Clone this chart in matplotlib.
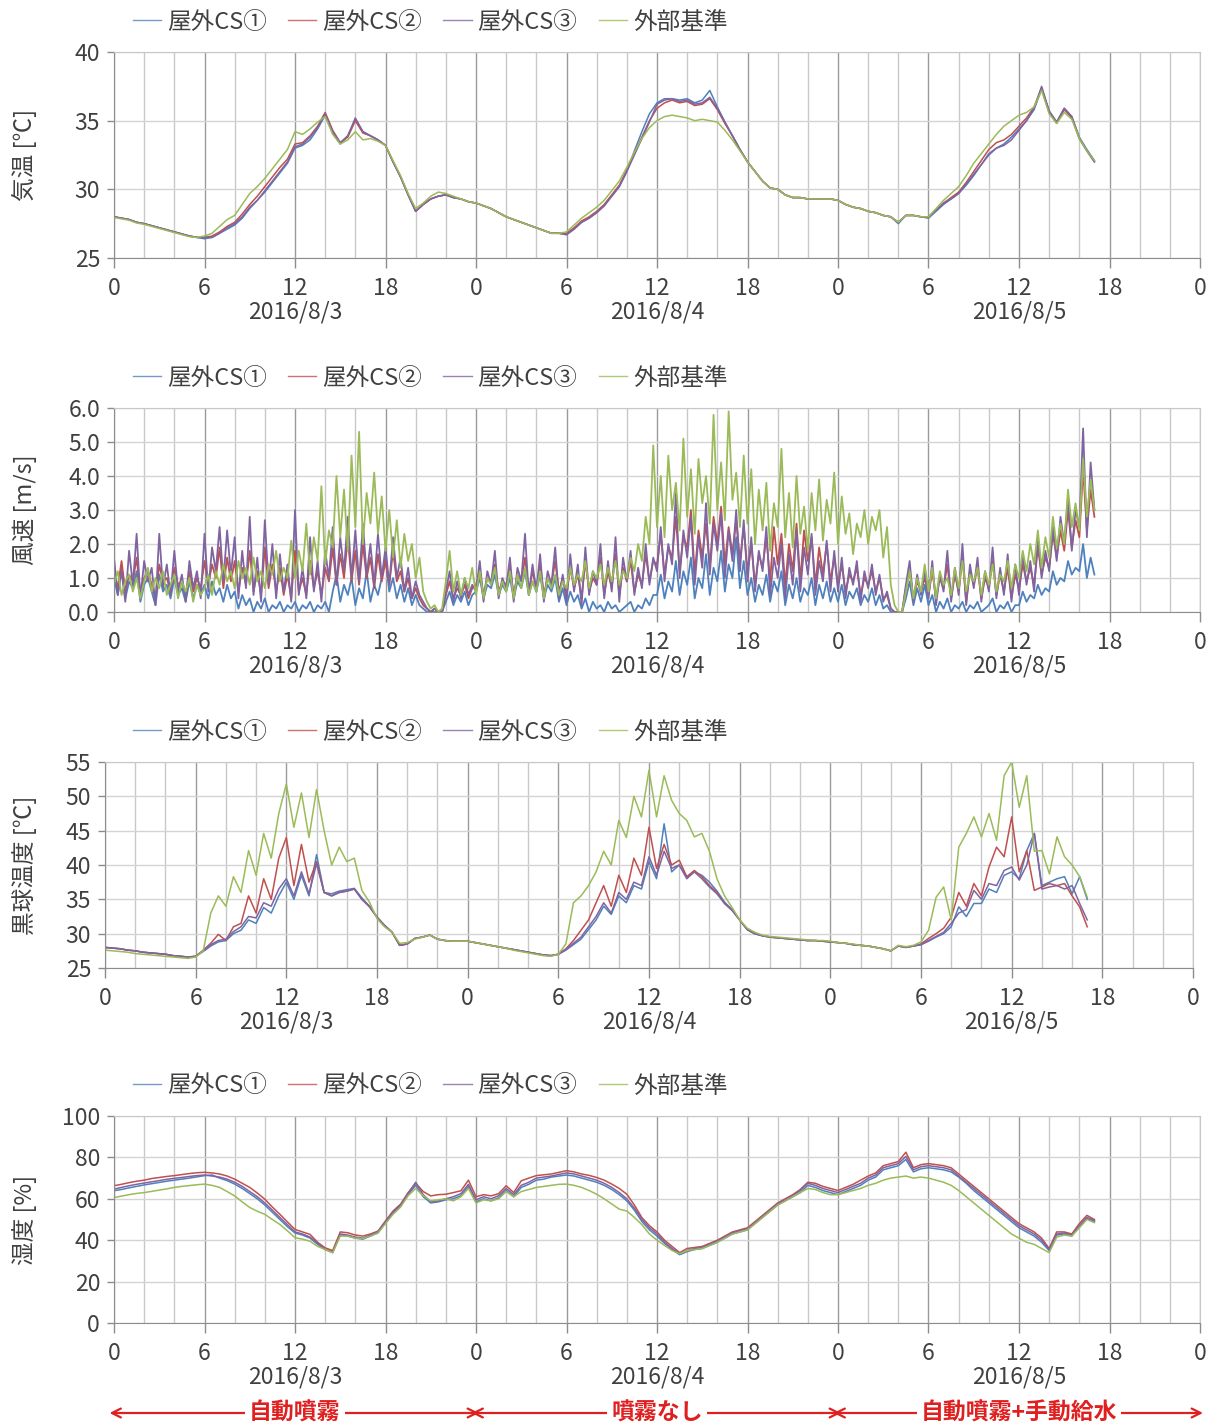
import numpy as np
import matplotlib
matplotlib.use('Agg')
import matplotlib.pyplot as plt
import matplotlib.transforms as mtransforms
from matplotlib.lines import Line2D
from matplotlib.ticker import MultipleLocator, FormatStrFormatter

plt.rcParams['font.family'] = ['Noto Sans CJK JP', 'DejaVu Sans']

# sampling times [h from 2016/8/3 0:00] up to 65 h
hours = np.arange(131) * 0.5        # 30 min records
hours_wind = np.arange(261) * 0.25  # 15 min records

series_names = ['屋外CS①', '屋外CS②', '屋外CS③', '外部基準']
colors = ['#4F81BD', '#C0504D', '#8064A2', '#9BBB59']
day_labels = ['2016/8/3', '2016/8/4', '2016/8/5']
mode_labels = ['自動噴霧', '噴霧なし', '自動噴霧+手動給水']

# ---- air temperature [C]
temp_cs1 = [28.0, 27.9, 27.8, 27.6, 27.5, 27.35, 27.2, 27.05, 26.9, 26.75, 26.6, 26.5,
            26.4, 26.5, 26.8, 27.1, 27.4, 27.9, 28.6, 29.2, 29.8, 30.5, 31.2, 31.9,
            33.0, 33.2, 33.6, 34.4, 35.4, 34.1, 33.3, 33.9, 35.1, 34.2, 33.9, 33.6,
            33.2, 32.0, 30.9, 29.6, 28.4, 28.9, 29.3, 29.5, 29.6, 29.4, 29.3, 29.1,
            29.0, 28.8, 28.6, 28.3, 28.0, 27.8, 27.6, 27.4, 27.2, 27.0, 26.8, 26.8,
            26.7, 27.1, 27.6, 27.9, 28.3, 28.8, 29.5, 30.2, 31.3, 32.8, 34.2, 35.5,
            36.3, 36.6, 36.6, 36.5, 36.6, 36.3, 36.5, 37.2, 36.0, 34.9, 33.9, 32.9,
            32.0, 31.3, 30.6, 30.1, 30.0, 29.6, 29.4, 29.4, 29.3, 29.3, 29.3, 29.3,
            29.2, 28.9, 28.7, 28.6, 28.4, 28.3, 28.1, 28.0, 27.5, 28.1, 28.1, 28.0,
            27.9, 28.4, 28.9, 29.3, 29.7, 30.3, 31.0, 31.8, 32.6, 33.0, 33.3, 33.8,
            34.4, 35.0, 35.8, 37.3, 35.7, 34.9, 35.9, 35.3, 33.8, 32.9, 32.1]
temp_cs2 = [28.0, 27.9, 27.8, 27.6, 27.5, 27.35, 27.2, 27.05, 26.9, 26.75, 26.6, 26.5,
            26.5, 26.6, 26.9, 27.3, 27.6, 28.2, 28.9, 29.5, 30.2, 30.9, 31.6, 32.2,
            33.3, 33.4, 33.9, 34.6, 35.6, 34.3, 33.4, 33.8, 35.0, 34.1, 33.9, 33.6,
            33.2, 32.0, 30.9, 29.6, 28.4, 28.9, 29.3, 29.5, 29.6, 29.4, 29.3, 29.1,
            29.0, 28.8, 28.6, 28.3, 28.0, 27.8, 27.6, 27.4, 27.2, 27.0, 26.8, 26.8,
            26.8, 27.2, 27.7, 28.0, 28.4, 28.9, 29.6, 30.3, 31.4, 32.6, 33.8, 35.0,
            35.9, 36.3, 36.5, 36.3, 36.4, 36.1, 36.2, 36.6, 35.8, 34.8, 33.9, 32.9,
            32.0, 31.3, 30.6, 30.1, 30.0, 29.6, 29.4, 29.4, 29.3, 29.3, 29.3, 29.3,
            29.2, 28.9, 28.7, 28.6, 28.4, 28.3, 28.1, 28.0, 27.6, 28.1, 28.1, 28.0,
            28.0, 28.5, 29.0, 29.4, 29.8, 30.5, 31.3, 32.1, 32.9, 33.4, 33.6, 34.0,
            34.6, 35.2, 36.0, 37.4, 35.6, 34.8, 35.8, 35.2, 33.7, 32.8, 32.0]
temp_cs3 = [28.0, 27.9, 27.8, 27.6, 27.5, 27.35, 27.2, 27.05, 26.9, 26.75, 26.6, 26.5,
            26.5, 26.5, 26.8, 27.2, 27.5, 28.0, 28.7, 29.2, 29.9, 30.6, 31.3, 32.0,
            33.1, 33.3, 33.8, 34.5, 35.5, 34.2, 33.4, 33.9, 35.2, 34.2, 33.9, 33.6,
            33.2, 32.0, 30.9, 29.6, 28.4, 28.9, 29.3, 29.5, 29.6, 29.4, 29.3, 29.1,
            29.0, 28.8, 28.6, 28.3, 28.0, 27.8, 27.6, 27.4, 27.2, 27.0, 26.8, 26.8,
            26.7, 27.1, 27.6, 27.9, 28.3, 28.8, 29.5, 30.2, 31.3, 32.5, 33.7, 34.9,
            36.2, 36.5, 36.6, 36.4, 36.5, 36.2, 36.3, 36.7, 35.9, 34.9, 33.9, 32.9,
            32.0, 31.3, 30.6, 30.1, 30.0, 29.6, 29.4, 29.4, 29.3, 29.3, 29.3, 29.3,
            29.2, 28.9, 28.7, 28.6, 28.4, 28.3, 28.1, 28.0, 27.6, 28.1, 28.1, 28.0,
            28.0, 28.5, 29.0, 29.3, 29.7, 30.4, 31.1, 31.8, 32.5, 33.0, 33.2, 33.6,
            34.3, 35.0, 35.9, 37.5, 35.7, 34.9, 35.9, 35.3, 33.7, 32.8, 32.0]
temp_ext = [27.95, 27.85, 27.75, 27.55, 27.45, 27.3, 27.15, 27.0, 26.85, 26.7, 26.55, 26.5,
            26.6, 26.8, 27.3, 27.8, 28.1, 28.9, 29.7, 30.2, 30.8, 31.5, 32.2, 32.9,
            34.2, 34.0, 34.4, 34.9, 35.3, 34.0, 33.3, 33.6, 34.2, 33.6, 33.7, 33.5,
            33.2, 32.1, 31.0, 29.7, 28.6, 29.0, 29.5, 29.8, 29.7, 29.5, 29.3, 29.1,
            29.0, 28.8, 28.6, 28.3, 28.0, 27.8, 27.6, 27.4, 27.2, 27.0, 26.8, 26.8,
            26.9, 27.4, 27.9, 28.3, 28.7, 29.2, 29.9, 30.6, 31.6, 32.7, 33.7, 34.5,
            35.0, 35.3, 35.4, 35.3, 35.2, 35.0, 35.1, 35.0, 34.9, 34.3, 33.6, 32.8,
            32.0, 31.3, 30.6, 30.1, 30.0, 29.6, 29.4, 29.4, 29.3, 29.3, 29.3, 29.3,
            29.2, 28.9, 28.7, 28.6, 28.4, 28.3, 28.1, 28.0, 27.6, 28.1, 28.1, 28.0,
            28.0, 28.6, 29.2, 29.7, 30.2, 31.0, 31.9, 32.6, 33.3, 34.0, 34.6, 35.0,
            35.4, 35.6, 36.0, 37.2, 35.5, 34.8, 35.6, 35.1, 33.7, 32.8, 32.1]

# ---- wind speed [m/s], 15 min records
wind_cs1 = [1.0, 0.5, 1.3, 0.4, 0.9, 0.7, 1.2, 0.3, 0.8, 1.0, 0.6, 0.2, 1.1, 0.6, 0.8, 0.4, 1.0, 0.5, 0.7, 0.3, 0.9, 0.4, 0.8, 0.5,
            0.8, 0.4, 0.9, 0.5, 0.7, 0.3, 0.8, 0.4, 0.6, 0.1, 0.5, 0.2, 0.4, 0.0, 0.3, 0.1, 0.4, 0.0, 0.2, 0.1, 0.3, 0.0, 0.2, 0.1,
            0.3, 0.0, 0.2, 0.1, 0.3, 0.0, 0.2, 0.1, 0.3, 0.0, 0.6, 1.1, 0.3, 0.8, 0.5, 1.0, 0.2, 0.7, 0.4, 1.2, 0.3, 0.8, 0.5, 1.0,
            1.6, 0.6, 1.0, 0.4, 0.8, 0.3, 0.7, 0.2, 0.5, 0.2, 0.1, 0.0, 0.0, 0.0, 0.0, 0.0, 0.3, 0.6, 0.2, 0.5, 0.3, 0.6, 0.2, 0.5,
            0.6, 1.0, 0.4, 0.8, 0.7, 1.1, 0.5, 0.8, 0.6, 1.0, 0.4, 0.9, 0.7, 1.2, 0.5, 0.9, 0.6, 1.1, 0.4, 0.8, 0.6, 1.0, 0.3, 0.7,
            0.2, 0.6, 0.3, 0.5, 0.1, 0.4, 0.0, 0.3, 0.1, 0.2, 0.0, 0.3, 0.1, 0.2, 0.0, 0.1, 0.2, 0.3, 0.0, 0.2, 0.1, 0.4, 0.2, 0.5,
            0.5, 1.1, 0.4, 0.9, 0.6, 1.5, 0.5, 1.2, 0.8, 1.6, 0.4, 1.0, 0.7, 1.7, 0.5, 1.3, 0.9, 1.8, 0.6, 1.4, 1.0, 2.2, 0.7, 1.5,
            0.5, 1.0, 0.3, 0.8, 0.5, 1.1, 0.3, 0.9, 0.6, 1.2, 0.2, 0.8, 0.4, 1.0, 0.3, 0.7, 0.5, 1.0, 0.2, 0.8, 0.4, 0.9, 0.3, 0.7,
            0.3, 0.8, 0.2, 0.6, 0.4, 0.7, 0.2, 0.5, 0.3, 0.7, 0.2, 0.5, 0.1, 0.2, 0.0, 0.0, 0.0, 0.0, 0.4, 0.9, 0.2, 0.7, 0.3, 0.8,
            0.2, 0.5, 0.0, 0.3, 0.1, 0.4, 0.0, 0.2, 0.1, 0.3, 0.0, 0.2, 0.1, 0.3, 0.0, 0.1, 0.2, 0.4, 0.0, 0.2, 0.1, 0.3, 0.0, 0.2,
            0.2, 0.6, 0.3, 0.5, 0.4, 0.8, 0.5, 0.7, 0.6, 1.2, 0.8, 1.0, 0.9, 1.5, 1.1, 1.3, 1.2, 2.0, 1.0, 1.6, 1.1]
wind_cs2 = [1.2, 0.7, 1.5, 0.6, 1.1, 0.9, 1.6, 0.5, 1.0, 1.2, 0.8, 0.4, 1.4, 0.9, 1.0, 0.6, 1.3, 0.8, 0.9, 0.5, 1.2, 0.6, 1.0, 0.7,
            1.5, 0.8, 1.4, 1.0, 1.9, 0.7, 1.6, 0.9, 1.5, 0.6, 1.3, 0.8, 1.8, 0.6, 1.2, 0.5, 1.9, 0.7, 1.4, 0.6, 1.3, 0.5, 1.1, 0.4,
            1.8, 0.6, 1.0, 0.5, 1.5, 0.7, 1.2, 0.5, 1.3, 0.9, 1.9, 0.8, 1.7, 1.0, 2.2, 0.9, 1.8, 0.8, 2.0, 1.0, 1.6, 0.7, 1.7, 0.9,
            1.5, 0.8, 1.8, 0.9, 1.2, 0.6, 1.0, 0.4, 0.7, 0.4, 0.2, 0.1, 0.0, 0.1, 0.0, 0.0, 0.5, 0.9, 0.4, 0.7, 0.5, 0.8, 0.4, 0.7,
            0.8, 1.2, 0.5, 1.0, 0.9, 1.4, 0.6, 0.9, 0.8, 1.3, 0.5, 1.1, 0.9, 1.6, 0.6, 1.2, 0.7, 1.4, 0.5, 1.0, 0.8, 1.5, 0.6, 1.0,
            0.5, 1.3, 0.7, 1.1, 0.4, 1.5, 0.6, 1.0, 0.8, 1.6, 0.5, 1.2, 0.7, 1.7, 0.5, 1.3, 0.9, 1.5, 0.6, 1.1, 0.8, 1.7, 0.9, 1.5,
            1.4, 2.3, 1.1, 1.9, 1.6, 2.8, 1.2, 2.2, 1.9, 3.0, 1.1, 2.4, 1.6, 2.6, 1.3, 2.8, 2.0, 3.1, 1.4, 2.5, 1.7, 2.7, 1.5, 2.5,
            1.2, 2.0, 0.8, 1.7, 1.3, 2.2, 0.9, 2.5, 1.4, 2.3, 0.8, 2.0, 1.2, 2.6, 0.9, 2.4, 1.5, 2.2, 0.8, 1.9, 1.1, 2.0, 0.9, 1.6,
            0.8, 1.4, 0.6, 1.1, 0.9, 1.3, 0.5, 1.0, 0.8, 1.2, 0.6, 1.0, 0.4, 0.5, 0.1, 0.0, 0.0, 0.0, 0.7, 1.2, 0.4, 0.9, 0.6, 1.0,
            0.5, 1.2, 0.4, 1.0, 0.7, 1.4, 0.4, 1.1, 0.6, 1.6, 0.3, 1.2, 0.8, 1.3, 0.4, 1.0, 0.7, 1.5, 0.5, 1.1, 0.6, 1.3, 0.4, 1.1,
            0.7, 1.4, 0.9, 1.3, 0.8, 1.9, 1.1, 1.6, 1.3, 2.3, 1.6, 2.4, 1.8, 3.0, 1.9, 2.7, 2.2, 4.2, 2.4, 3.6, 2.8]
wind_cs3 = [1.6, 0.5, 1.2, 0.3, 1.8, 0.8, 2.3, 0.4, 1.5, 0.9, 1.3, 0.2, 2.3, 0.7, 1.4, 0.5, 1.8, 0.6, 1.1, 0.3, 1.5, 0.7, 1.2, 0.4,
            2.3, 0.6, 1.9, 1.2, 2.5, 0.9, 2.4, 1.1, 2.2, 0.4, 1.8, 0.7, 2.8, 0.5, 1.6, 0.3, 2.7, 0.8, 2.0, 0.4, 1.7, 0.6, 1.4, 0.3,
            3.0, 0.5, 1.3, 0.4, 2.2, 0.6, 1.5, 0.3, 1.8, 1.0, 2.5, 0.8, 2.2, 1.2, 2.8, 1.0, 2.4, 0.9, 2.6, 1.1, 2.0, 0.8, 2.3, 1.0,
            1.9, 0.8, 2.2, 1.0, 1.6, 0.6, 1.3, 0.4, 0.9, 0.5, 0.3, 0.1, 0.0, 0.1, 0.0, 0.0, 0.6, 1.2, 0.3, 0.9, 0.4, 1.0, 0.5, 0.8,
            0.6, 1.5, 0.3, 1.2, 0.8, 1.8, 0.4, 1.0, 0.7, 1.6, 0.3, 1.3, 0.9, 2.3, 0.5, 1.4, 0.6, 1.7, 0.3, 1.2, 0.8, 1.9, 0.4, 1.1,
            0.3, 1.7, 0.6, 1.4, 0.2, 1.9, 0.5, 1.2, 0.8, 2.0, 0.4, 1.5, 0.6, 2.2, 0.3, 1.6, 0.9, 1.8, 0.5, 1.3, 0.7, 2.0, 0.8, 1.6,
            1.2, 2.5, 0.9, 2.0, 1.4, 3.5, 1.0, 2.4, 1.6, 2.8, 0.8, 2.2, 1.3, 3.2, 1.1, 2.6, 1.8, 2.9, 1.0, 2.4, 1.5, 3.0, 1.2, 2.7,
            0.9, 2.2, 0.6, 1.8, 1.2, 2.5, 0.5, 1.6, 1.0, 2.0, 0.4, 1.7, 0.8, 2.4, 0.6, 1.9, 1.1, 2.3, 0.5, 1.5, 0.9, 2.1, 0.6, 1.8,
            0.6, 1.6, 0.4, 1.3, 0.8, 1.5, 0.3, 1.2, 0.7, 1.4, 0.5, 1.1, 0.3, 0.6, 0.1, 0.0, 0.0, 0.0, 0.8, 1.5, 0.3, 1.1, 0.5, 1.2,
            0.4, 1.5, 0.2, 1.1, 0.6, 1.8, 0.3, 1.3, 0.5, 2.0, 0.2, 1.4, 0.7, 1.6, 0.3, 1.2, 0.6, 1.9, 0.4, 1.3, 0.5, 1.7, 0.3, 1.4,
            0.5, 1.7, 0.8, 1.5, 0.6, 2.2, 1.0, 1.8, 1.2, 2.5, 1.5, 2.8, 2.0, 3.4, 1.8, 3.0, 2.5, 5.4, 2.2, 4.4, 3.0]
wind_ext = [0.8, 1.2, 0.5, 0.9, 1.1, 0.6, 1.0, 0.4, 0.9, 1.3, 0.6, 1.0, 0.7, 1.2, 0.5, 0.8, 1.1, 0.4, 0.9, 0.6, 1.0, 0.3, 0.8, 0.5,
            0.7, 1.1, 0.5, 1.2, 0.8, 1.4, 0.9, 1.2, 0.7, 1.5, 1.0, 1.3, 0.8, 1.6, 0.9, 1.2, 0.7, 1.4, 1.1, 1.8, 0.9, 1.3, 1.0, 2.1,
            1.0, 1.8, 1.2, 2.6, 1.1, 2.2, 1.5, 3.7, 1.4, 2.4, 1.9, 4.0, 2.2, 3.6, 1.8, 4.6, 2.5, 5.3, 2.0, 3.5, 2.6, 4.1, 2.3, 3.4,
            1.8, 3.0, 1.6, 2.7, 1.3, 2.3, 1.5, 2.0, 1.0, 1.6, 0.6, 0.3, 0.1, 0.2, 0.0, 0.1, 0.9, 1.8, 0.6, 1.2, 0.5, 1.0, 0.7, 1.3,
            0.5, 1.2, 0.4, 1.0, 0.8, 1.3, 0.5, 0.9, 0.6, 1.2, 0.4, 1.1, 0.7, 1.3, 0.5, 0.9, 0.6, 1.2, 0.4, 1.0, 0.7, 1.1, 0.5, 0.9,
            0.7, 1.3, 0.8, 1.1, 0.9, 1.5, 0.7, 1.2, 1.0, 1.4, 0.8, 1.3, 0.9, 1.5, 0.8, 1.2, 1.0, 1.6, 1.2, 2.0, 1.5, 2.8, 2.0, 4.9,
            2.5, 4.0, 2.2, 4.6, 3.0, 3.8, 2.4, 5.1, 2.8, 4.2, 2.3, 4.5, 3.2, 4.0, 2.6, 5.8, 3.0, 4.4, 2.7, 5.9, 3.3, 4.1, 2.5, 4.6,
            2.6, 4.2, 2.0, 3.6, 2.4, 3.8, 1.8, 3.2, 2.5, 4.8, 2.2, 3.5, 1.9, 4.0, 2.3, 3.1, 1.8, 3.5, 2.4, 3.9, 2.1, 3.3, 2.6, 4.1,
            2.0, 3.4, 2.3, 2.9, 1.7, 2.6, 2.2, 3.0, 2.0, 2.8, 2.4, 3.0, 1.6, 2.5, 0.8, 0.2, 0.0, 0.0, 0.6, 1.2, 0.4, 1.0, 0.6, 1.4,
            0.6, 1.3, 0.4, 1.2, 0.8, 1.0, 0.5, 1.3, 0.7, 1.5, 0.6, 1.1, 0.9, 1.3, 0.5, 1.2, 0.8, 1.4, 0.6, 1.1, 0.9, 1.5, 0.7, 1.4,
            1.0, 1.8, 1.2, 2.0, 1.4, 2.4, 1.3, 2.2, 1.6, 2.8, 1.9, 2.6, 2.0, 3.6, 2.5, 3.2, 2.4, 4.5, 2.8, 3.9, 3.0]

# ---- globe temperature [C]
globe_cs1 = [28.0, 27.9, 27.8, 27.6, 27.5, 27.3, 27.2, 27.1, 27.0, 26.8, 26.7, 26.6,
             26.7, 27.4, 28.2, 28.8, 29.0, 30.0, 30.5, 32.0, 31.5, 33.8, 33.0, 35.5,
             37.5, 35.0, 38.5, 35.5, 41.5, 36.0, 35.8, 36.2, 36.4, 36.6, 35.2, 34.0,
             32.4, 31.2, 30.2, 28.3, 28.5, 29.3, 29.5, 29.8, 29.2, 29.0, 28.9, 28.9,
             28.9, 28.7, 28.5, 28.3, 28.1, 27.9, 27.7, 27.5, 27.3, 27.1, 26.9, 26.8,
             27.0, 27.6, 28.4, 29.2, 30.6, 32.0, 34.0, 32.8, 35.5, 34.5, 37.0, 36.5,
             40.5, 38.0, 46.0, 39.0, 40.0, 38.2, 39.0, 38.5, 37.5, 36.2, 34.6, 33.5,
             32.0, 30.6, 30.0, 29.7, 29.5, 29.4, 29.3, 29.2, 29.1, 29.0, 29.0, 28.9,
             28.8, 28.7, 28.6, 28.4, 28.3, 28.2, 28.0, 27.8, 27.5, 28.2, 28.0, 28.2,
             28.4, 28.9, 29.5, 30.0, 31.0, 33.9, 32.5, 34.4, 34.4, 36.5, 36.0, 38.5,
             39.0, 38.0, 42.1, 44.6, 37.0, 37.5, 38.0, 38.3, 35.8, 38.3, 35.0]
globe_cs2 = [28.0, 27.9, 27.8, 27.6, 27.5, 27.3, 27.2, 27.1, 27.0, 26.8, 26.7, 26.6,
             26.7, 27.6, 28.6, 29.9, 29.0, 31.0, 31.5, 35.5, 33.0, 38.0, 35.0, 41.0,
             44.0, 37.0, 43.0, 37.5, 40.5, 36.0, 35.5, 36.0, 36.2, 36.5, 35.0, 34.0,
             32.4, 31.2, 30.2, 28.3, 28.5, 29.3, 29.5, 29.8, 29.2, 29.0, 28.9, 28.9,
             28.9, 28.7, 28.5, 28.3, 28.1, 27.9, 27.7, 27.5, 27.3, 27.1, 26.9, 26.8,
             27.0, 27.8, 29.0, 30.5, 32.0, 34.5, 37.0, 34.0, 38.5, 36.0, 41.0, 38.5,
             45.5, 39.5, 43.0, 40.0, 40.7, 38.3, 39.2, 38.3, 37.0, 36.0, 34.4, 33.4,
             32.0, 30.6, 30.0, 29.7, 29.5, 29.4, 29.3, 29.2, 29.1, 29.0, 29.0, 28.9,
             28.8, 28.7, 28.6, 28.4, 28.3, 28.2, 28.0, 27.8, 27.5, 28.2, 28.0, 28.2,
             28.5, 29.3, 30.0, 30.8, 32.4, 36.0, 34.0, 37.3, 35.5, 39.7, 42.6, 41.2,
             47.0, 39.0, 42.1, 36.3, 36.8, 37.3, 37.0, 37.3, 35.5, 33.9, 31.0]
globe_cs3 = [28.0, 27.9, 27.8, 27.6, 27.5, 27.3, 27.2, 27.1, 27.0, 26.8, 26.7, 26.6,
             26.7, 27.5, 28.4, 29.0, 29.2, 30.3, 31.0, 32.5, 32.3, 34.5, 34.0, 36.5,
             38.0, 35.5, 39.0, 35.8, 40.2, 36.0, 35.5, 36.0, 36.2, 36.5, 35.0, 33.9,
             32.4, 31.2, 30.2, 28.3, 28.5, 29.3, 29.5, 29.8, 29.2, 29.0, 28.9, 28.9,
             28.9, 28.7, 28.5, 28.3, 28.1, 27.9, 27.7, 27.5, 27.3, 27.1, 26.9, 26.8,
             27.0, 27.7, 28.6, 29.5, 31.0, 32.5, 34.5, 33.0, 36.0, 35.0, 37.5, 37.0,
             41.2, 38.5, 42.0, 39.5, 40.0, 38.0, 39.0, 38.0, 36.8, 35.8, 34.4, 33.4,
             32.0, 30.6, 30.0, 29.7, 29.5, 29.4, 29.3, 29.2, 29.1, 29.0, 29.0, 28.9,
             28.8, 28.7, 28.6, 28.4, 28.3, 28.2, 28.0, 27.8, 27.5, 28.2, 28.0, 28.2,
             28.4, 29.0, 29.6, 30.2, 31.5, 33.0, 33.5, 36.3, 35.0, 37.3, 37.0, 39.2,
             39.7, 37.8, 40.0, 44.6, 36.5, 36.8, 37.0, 36.5, 37.0, 34.4, 32.0]
globe_ext = [27.6, 27.5, 27.4, 27.3, 27.1, 27.0, 26.9, 26.8, 26.7, 26.6, 26.5, 26.4,
             26.6, 27.5, 33.0, 35.5, 34.0, 38.3, 36.0, 42.1, 38.5, 44.6, 41.0, 47.5,
             51.8, 45.5, 50.5, 44.0, 51.0, 45.0, 40.0, 42.6, 40.5, 41.0, 36.3, 34.6,
             32.2, 31.0, 30.2, 28.6, 28.7, 29.2, 29.5, 29.8, 29.2, 29.0, 28.9, 28.9,
             28.9, 28.7, 28.5, 28.3, 28.1, 27.9, 27.6, 27.4, 27.2, 27.0, 26.8, 26.7,
             27.0, 28.5, 34.5, 35.5, 37.0, 39.0, 42.0, 40.0, 46.5, 44.0, 50.0, 47.0,
             53.8, 47.0, 53.0, 49.4, 47.5, 46.5, 44.1, 44.6, 42.0, 38.0, 35.5, 33.8,
             32.0, 30.8, 30.2, 29.8, 29.6, 29.5, 29.4, 29.3, 29.2, 29.1, 29.0, 29.0,
             28.9, 28.7, 28.6, 28.5, 28.3, 28.2, 28.0, 27.8, 27.5, 28.3, 28.1, 28.3,
             28.8, 30.5, 35.3, 36.8, 32.0, 42.6, 44.6, 47.0, 44.1, 47.5, 43.6, 53.0,
             55.0, 48.4, 53.0, 42.0, 42.1, 38.7, 44.1, 41.2, 40.0, 38.3, 35.3]

# ---- relative humidity [%]
rh_cs1 = [63.9, 64.5, 65.3, 66.0, 66.7, 67.3, 67.9, 68.5, 69.0, 69.5, 70.0, 70.6,
          71.2, 71.5, 70.0, 68.8, 67.1, 65.0, 62.5, 60.0, 57.0, 53.5, 50.0, 46.5,
          43.5, 42.5, 41.0, 38.0, 35.5, 34.5, 42.5, 42.0, 41.0, 40.5, 42.0, 43.5,
          48.5, 53.0, 56.5, 62.0, 66.5, 61.0, 58.0, 58.5, 59.5, 60.0, 61.5, 66.0,
          58.5, 60.0, 59.0, 60.5, 64.0, 61.0, 65.5, 67.0, 69.0, 69.5, 70.5, 71.0,
          71.5, 71.0, 70.0, 69.0, 68.0, 66.5, 64.5, 62.0, 59.0, 54.5, 49.0, 45.0,
          42.0, 38.5, 35.5, 33.0, 34.5, 35.5, 36.0, 37.5, 39.0, 41.0, 43.0, 44.0,
          45.0, 48.0, 51.0, 54.0, 57.0, 59.0, 61.0, 63.0, 66.5, 65.5, 64.0, 63.0,
          62.0, 63.5, 65.0, 66.5, 69.0, 70.5, 74.0, 75.0, 76.0, 79.0, 73.0, 74.5,
          75.0, 74.5, 74.0, 73.0, 70.5, 67.5, 64.0, 61.0, 58.0, 55.0, 52.0, 49.0,
          46.0, 44.0, 42.0, 39.0, 35.0, 42.5, 43.0, 42.0, 46.5, 50.5, 49.0]
rh_cs2 = [66.3, 67.0, 67.8, 68.5, 69.0, 69.8, 70.3, 70.8, 71.2, 71.7, 72.2, 72.6,
          72.8, 72.5, 72.0, 71.0, 69.5, 67.5, 65.5, 62.8, 59.8, 56.0, 52.5, 48.8,
          45.2, 44.0, 42.8, 39.0, 36.3, 35.0, 44.0, 43.6, 42.5, 42.0, 43.0, 44.4,
          49.3, 54.1, 57.4, 63.0, 67.5, 63.5, 61.4, 62.0, 62.2, 63.0, 63.9, 69.0,
          61.0, 62.0, 61.4, 62.5, 66.3, 63.0, 68.7, 70.0, 71.2, 71.6, 72.0, 72.8,
          73.6, 73.0, 72.0, 71.3, 70.3, 69.0, 67.1, 65.0, 62.2, 57.0, 50.9, 47.0,
          44.0, 40.0, 37.0, 34.0, 36.0, 36.5, 37.0, 38.5, 40.0, 42.0, 44.0, 45.0,
          46.0, 49.0, 52.0, 55.0, 58.0, 60.0, 62.0, 64.5, 68.0, 67.5, 66.0, 65.0,
          64.0, 65.5, 67.0, 69.0, 71.0, 72.5, 76.0, 77.0, 78.0, 82.5, 75.0, 76.5,
          77.0, 76.5, 76.0, 75.0, 72.0, 69.0, 66.0, 63.0, 60.0, 57.0, 54.0, 51.0,
          48.0, 46.0, 44.0, 41.0, 36.0, 44.0, 44.0, 43.0, 48.0, 52.0, 50.0]
rh_cs3 = [64.7, 65.5, 66.3, 67.0, 67.6, 68.2, 68.8, 69.4, 69.9, 70.3, 70.8, 71.2,
          71.5, 71.0, 70.5, 69.5, 68.0, 66.0, 63.5, 61.0, 58.0, 54.5, 51.0, 47.5,
          44.0, 43.0, 41.5, 38.5, 35.5, 34.0, 43.0, 42.5, 41.5, 41.0, 42.5, 44.0,
          49.0, 53.5, 57.0, 62.5, 68.0, 62.0, 58.5, 59.0, 60.0, 61.0, 62.5, 67.0,
          59.5, 61.0, 60.0, 61.5, 65.0, 62.0, 66.5, 68.0, 70.0, 70.5, 71.0, 71.8,
          72.5, 72.0, 71.0, 70.0, 69.0, 67.5, 65.5, 63.0, 60.0, 55.5, 50.0, 46.0,
          43.0, 39.0, 36.0, 33.5, 35.0, 36.0, 36.5, 38.0, 39.5, 41.5, 43.5, 44.5,
          45.5, 48.5, 51.5, 54.5, 57.5, 59.5, 61.5, 64.0, 67.5, 66.5, 65.0, 64.0,
          63.0, 64.5, 66.0, 67.5, 70.0, 71.5, 75.0, 76.0, 77.0, 80.5, 74.0, 75.5,
          76.0, 75.5, 75.0, 74.0, 71.0, 68.0, 65.0, 62.0, 59.0, 56.0, 53.0, 50.0,
          47.0, 45.0, 43.0, 40.0, 35.5, 43.0, 43.5, 42.5, 47.0, 51.0, 49.5]
rh_ext = [60.6, 61.3, 62.0, 62.6, 63.0, 63.6, 64.2, 64.8, 65.5, 66.0, 66.4, 66.8,
          67.1, 66.5, 65.5, 63.5, 61.4, 58.5, 55.8, 54.0, 52.5, 50.0, 47.6, 44.5,
          41.2, 40.5, 39.5, 37.0, 35.5, 34.0, 42.0, 42.0, 41.0, 40.8, 42.0, 43.5,
          48.0, 52.5, 56.0, 61.5, 65.0, 61.5, 59.0, 59.5, 60.0, 59.0, 61.0, 65.0,
          58.0, 59.5, 59.0, 60.0, 63.5, 61.0, 63.5, 64.5, 65.5, 66.0, 66.5, 67.0,
          67.1, 66.5, 65.5, 64.0, 62.2, 60.0, 57.5, 55.0, 54.1, 51.0, 47.5, 43.0,
          40.0, 37.5, 35.0, 33.5, 35.0, 35.5, 36.0, 37.5, 39.0, 41.0, 43.0, 44.0,
          45.0, 48.0, 51.0, 54.0, 57.0, 59.0, 61.0, 63.0, 65.0, 64.5, 63.0, 62.0,
          62.0, 63.0, 64.0, 65.0, 66.5, 67.5, 69.0, 70.0, 70.5, 71.0, 70.0, 70.5,
          70.0, 69.0, 68.0, 66.5, 64.0, 61.0, 58.0, 55.0, 52.0, 49.0, 46.0, 43.0,
          41.0, 39.0, 38.0, 36.0, 34.0, 41.5, 42.5, 42.0, 46.0, 50.0, 48.5]

panels = [
    (hours, [temp_cs1, temp_cs2, temp_cs3, temp_ext], '気温 [℃]', (25, 40), 5, '%d', 1.1),
    (hours_wind, [wind_cs1, wind_cs2, wind_cs3, wind_ext], '風速 [m/s]', (0, 6), 1, '%.1f', 1.3),
    (hours, [globe_cs1, globe_cs2, globe_cs3, globe_ext], '黒球温度 [℃]', (25, 55), 5, '%d', 1.1),
    (hours, [rh_cs1, rh_cs2, rh_cs3, rh_ext], '湿度 [%]', (0, 100), 20, '%d', 1.1),
]

W, H = 1217, 1428
# axes boxes in pixels: left, top, right, bottom
boxes = [(114, 52, 1200, 258), (114, 408, 1200, 612),
         (105, 762, 1193, 968), (114, 1116, 1200, 1323)]

fig = plt.figure(figsize=(W / 100, H / 100), dpi=100)
FS = 16.5
TXT = '#404040'

for (tt, data, ylabel, ylim, ystep, yfmt, lw), (l, t, r, b) in zip(panels, boxes):
    ax = fig.add_axes([l / W, 1 - b / H, (r - l) / W, (b - t) / H])
    for vals, c, name in zip(data, colors, series_names):
        ax.plot(tt, vals, color=c, lw=lw, label=name)

    ax.set_xlim(0, 72)
    ax.set_ylim(*ylim)
    ax.set_xticks(np.arange(0, 73, 6))
    ax.set_xticklabels([str(int(h % 24)) for h in np.arange(0, 73, 6)])
    ax.xaxis.set_minor_locator(MultipleLocator(2))
    ax.yaxis.set_major_locator(MultipleLocator(ystep))
    ax.yaxis.set_major_formatter(FormatStrFormatter(yfmt))
    ax.tick_params(axis='x', which='major', length=7, width=1, color='#8C8C8C',
                   labelsize=FS, pad=7, labelcolor=TXT)
    ax.tick_params(axis='x', which='minor', length=0)
    ax.tick_params(axis='y', length=5, width=1, color='#8C8C8C', labelsize=FS,
                   pad=5, labelcolor=TXT)
    ax.grid(True, axis='x', which='major', color='#9A9A9A', lw=1.0)
    ax.grid(True, axis='x', which='minor', color='#C8C8C8', lw=1.0)
    ax.grid(True, axis='y', which='major', color='#D4D4D4', lw=1.0)
    ax.set_axisbelow(True)
    for side in ['top', 'right']:
        ax.spines[side].set_color('#C8C8C8')
    for side in ['left', 'bottom']:
        ax.spines[side].set_color('#8C8C8C')

    # label placed with its right edge about 37 px from the figure edge
    ax.set_ylabel(ylabel, fontsize=17, color=TXT)
    ax.yaxis.set_label_coords(-(l - 37) / (r - l), 0.5)

    trans = mtransforms.blended_transform_factory(ax.transData, ax.transAxes)
    for d, lab in enumerate(day_labels):
        ax.text(24 * d + 12, -54 / (b - t), lab, transform=trans, ha='center',
                va='center', fontsize=FS, color=TXT)

    handles = [Line2D([], [], color=c, lw=1.0, alpha=0.8) for c in colors]
    ax.legend(handles, series_names, loc='center', ncol=4, frameon=False,
              bbox_to_anchor=((430 - l) / (r - l), 1 + 30 / (b - t)),
              fontsize=17, handlelength=1.2, handletextpad=0.25,
              columnspacing=0.9, labelcolor=TXT)

# arrows showing the operation mode of each day (bottom panel)
trans = mtransforms.blended_transform_factory(ax.transData, ax.transAxes)
ya = -90 / (1323 - 1116)
for d, lab in enumerate(mode_labels):
    x0, x1 = 24 * d - 0.3, 24 * (d + 1) + 0.2
    ax.annotate('', xy=(x0, ya), xytext=(x1, ya), xycoords=trans, textcoords=trans,
                arrowprops=dict(arrowstyle='<->', color='#E02020', lw=1.6,
                                shrinkA=0, shrinkB=0, mutation_scale=16),
                annotation_clip=False)
    ax.text(24 * d + 12, ya, lab, transform=trans, ha='center', va='center',
            fontsize=FS, color='#E02020', fontweight='bold',
            bbox=dict(facecolor='white', edgecolor='none', pad=3))

fig.savefig('out.png', dpi=100)
